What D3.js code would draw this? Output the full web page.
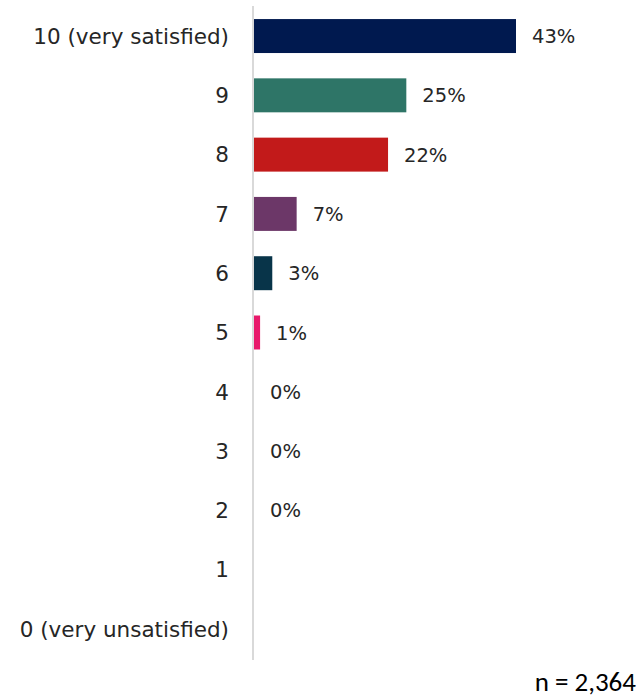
<!DOCTYPE html>
<html>
<head>
<meta charset="utf-8">
<script src="https://cdn.jsdelivr.net/npm/d3@7"></script>
<style>
  html, body { margin: 0; padding: 0; background: #ffffff; }
  svg { display: block; }
</style>
</head>
<body>
<svg id="chart" width="641" height="697"></svg>
<script>
// Satisfaction scores, top (10) to bottom (0)
const categories = ["10 (very satisfied)", "9", "8", "7", "6", "5", "4", "3", "2", "1", "0 (very unsatisfied)"];
const values = [43, 25, 22, 7, 3, 1, 0, 0, 0, null, null];
const colors = ["#00194f", "#2e7567", "#c21a1a", "#6c3768", "#083449", "#e8196b", "#1f3e9a", "#1f3e9a", "#1f3e9a", "#cccccc", "#cccccc"];
const sampleNote = "n = 2,364";

const svg = d3.select("#chart");
const labelFont = "'Century Gothic', 'DejaVu Sans', sans-serif";
const textColor = "#262626";

const x = d3.scaleLinear().domain([0, 50]).range([254, 254 + 50 * 6.093]);
const y = d3.scaleBand().domain(categories).range([6.4, 658.6]).paddingInner(0.427).paddingOuter(0.2135);

const rows = categories.map((c, i) => ({ cat: c, value: values[i], color: colors[i] }));

// bars
svg.append("g").selectAll("rect")
  .data(rows.filter(d => d.value !== null))
  .join("rect")
  .attr("x", x(0))
  .attr("y", d => y(d.cat))
  .attr("width", d => x(d.value) - x(0))
  .attr("height", y.bandwidth())
  .attr("fill", d => d.color);

// category axis (left), drawn with a light vertical rule
const yAxis = d3.axisLeft(y).tickSize(0).tickPadding(0);
const gy = svg.append("g").attr("transform", `translate(${x(0) - 1},0)`).call(yAxis);
gy.select(".domain").remove();
gy.append("line")
  .attr("x1", 0).attr("x2", 0)
  .attr("y1", 6).attr("y2", 660)
  .attr("stroke", "#d9d9d9").attr("stroke-width", 2);
gy.selectAll(".tick text")
  .attr("x", -24)
  .attr("dy", "0.36em")
  .attr("fill", textColor)
  .style("font-family", labelFont)
  .style("font-size", "21.5px");

// value labels
svg.append("g").selectAll("text")
  .data(rows.filter(d => d.value !== null))
  .join("text")
  .attr("x", d => x(d.value) + 16)
  .attr("y", d => y(d.cat) + y.bandwidth() / 2)
  .attr("dy", "0.36em")
  .attr("fill", textColor)
  .style("font-family", labelFont)
  .style("font-size", "19.5px")
  .text(d => d3.format(".0f")(d.value) + "%");

// sample size note
svg.append("text")
  .attr("x", 636)
  .attr("y", 691)
  .attr("text-anchor", "end")
  .attr("fill", "#000000")
  .style("font-family", "Calibri, Carlito, 'Open Sans', sans-serif")
  .style("font-size", "27px")
  .text(sampleNote);
</script>
</body>
</html>
